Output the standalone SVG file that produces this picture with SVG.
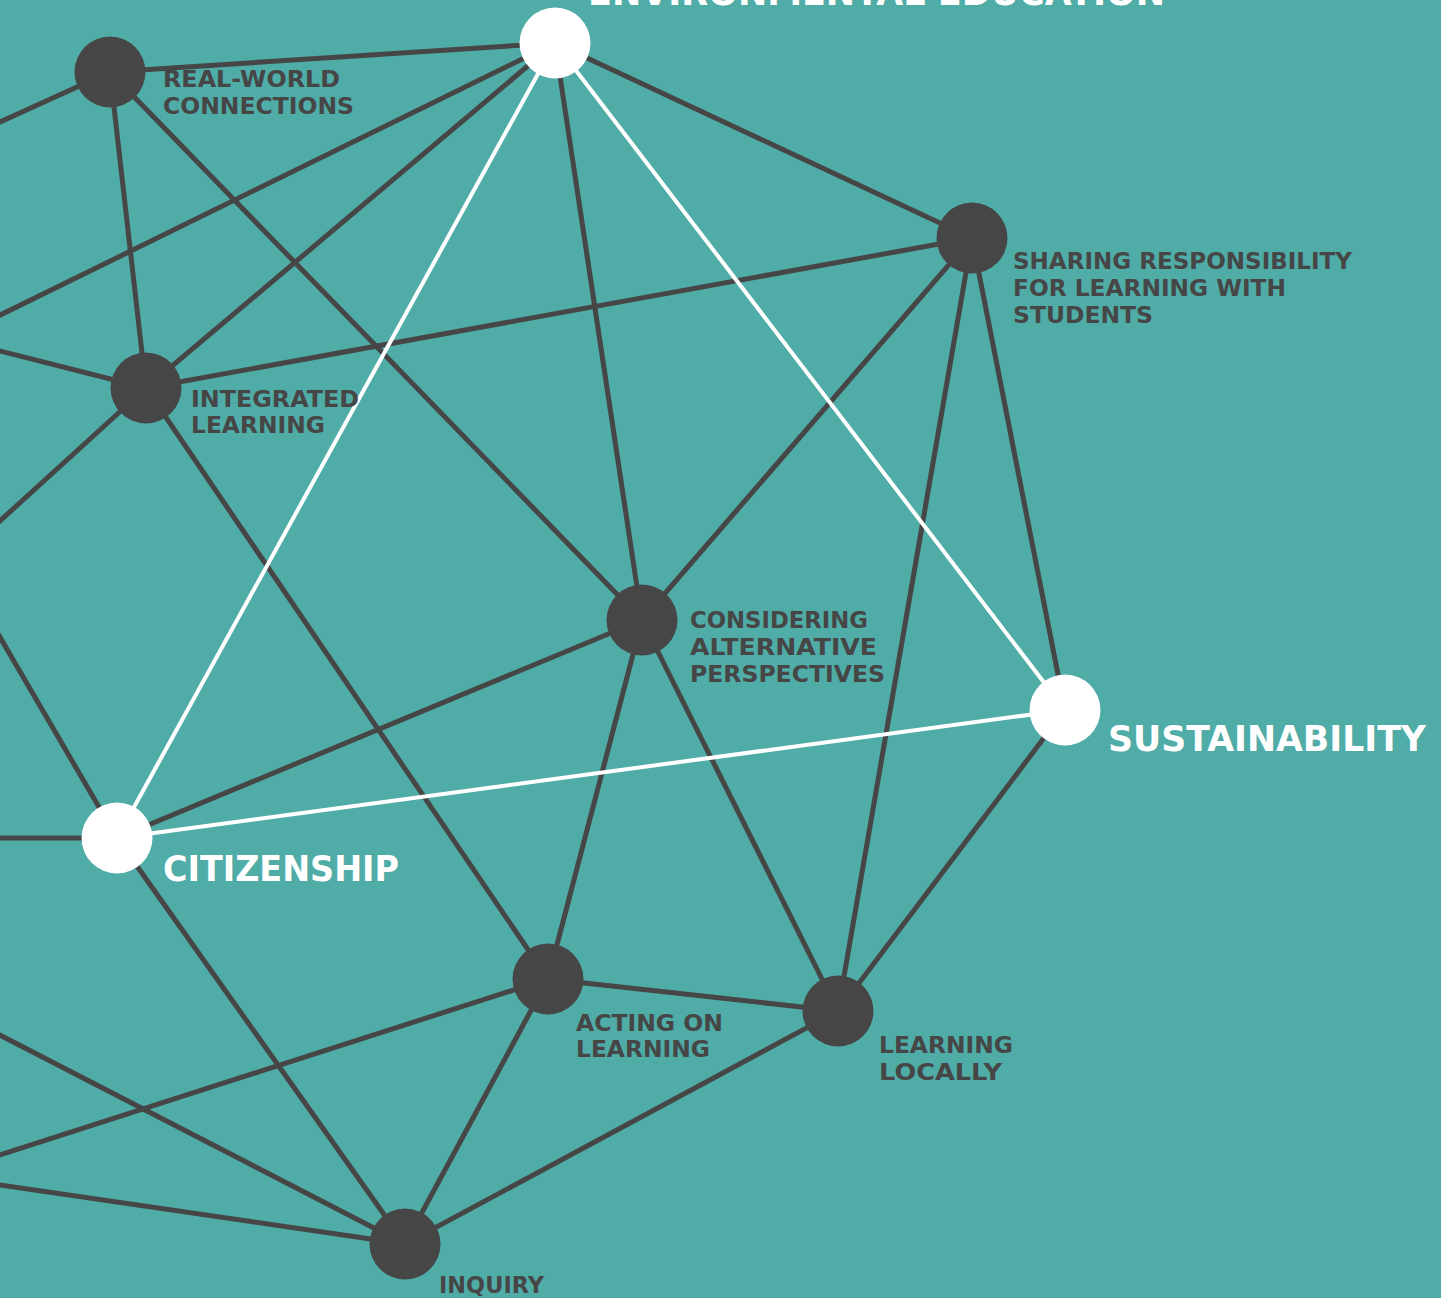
<svg xmlns="http://www.w3.org/2000/svg" width="1441" height="1298" viewBox="0 0 1441 1298">
<style>
.dk{stroke:#464646;stroke-width:5;fill:none}
.wt{stroke:#ffffff;stroke-width:4;fill:none}
.nd{fill:#464646}
.nw{fill:#ffffff}
.ld{font-family:"DejaVu Sans","Liberation Sans",sans-serif;font-weight:bold;font-size:23px;fill:#464646}
.lw{font-family:"DejaVu Sans","Liberation Sans",sans-serif;font-weight:bold;font-size:35.5px;fill:#ffffff}
</style>
<rect x="0" y="0" width="1441" height="1298" fill="#50ACA7"/>
<g id="connectors">
<line class="dk" x1="110" y1="72" x2="555" y2="43"/>
<line class="dk" x1="110" y1="72" x2="-10" y2="126.5"/>
<line class="dk" x1="555" y1="43" x2="-10" y2="320"/>
<line class="dk" x1="146" y1="388" x2="-10" y2="348.5"/>
<line class="dk" x1="146" y1="388" x2="-10" y2="530"/>
<line class="dk" x1="117" y1="838" x2="-10" y2="620"/>
<line class="dk" x1="117" y1="838" x2="-10" y2="838"/>
<line class="dk" x1="405" y1="1244" x2="-10" y2="1030"/>
<line class="dk" x1="548" y1="979" x2="-10" y2="1158"/>
<line class="dk" x1="405" y1="1244" x2="-10" y2="1183.5"/>
<line class="dk" x1="110" y1="72" x2="146" y2="388"/>
<line class="dk" x1="110" y1="72" x2="642" y2="620"/>
<line class="dk" x1="555" y1="43" x2="146" y2="388"/>
<line class="dk" x1="555" y1="43" x2="642" y2="620"/>
<line class="dk" x1="555" y1="43" x2="972" y2="238"/>
<line class="dk" x1="972" y1="238" x2="146" y2="388"/>
<line class="dk" x1="972" y1="238" x2="642" y2="620"/>
<line class="dk" x1="972" y1="238" x2="838" y2="1011"/>
<line class="dk" x1="972" y1="238" x2="1065" y2="710"/>
<line class="dk" x1="146" y1="388" x2="548" y2="979"/>
<line class="dk" x1="642" y1="620" x2="117" y2="838"/>
<line class="dk" x1="642" y1="620" x2="548" y2="979"/>
<line class="dk" x1="642" y1="620" x2="838" y2="1011"/>
<line class="dk" x1="1065" y1="710" x2="838" y2="1011"/>
<line class="dk" x1="117" y1="838" x2="405" y2="1244"/>
<line class="dk" x1="548" y1="979" x2="838" y2="1011"/>
<line class="dk" x1="548" y1="979" x2="405" y2="1244"/>
<line class="dk" x1="838" y1="1011" x2="405" y2="1244"/>
<line class="wt" x1="555" y1="43" x2="117" y2="838"/>
<line class="wt" x1="555" y1="43" x2="1065" y2="710"/>
<line class="wt" x1="117" y1="838" x2="1065" y2="710"/>
</g>
<g id="node-environmental-education">
<circle class="nw" cx="555" cy="43" r="35.5"/>
<text class="lw" x="588" y="5" textLength="577" lengthAdjust="spacingAndGlyphs">ENVIRONMENTAL EDUCATION</text>
</g>
<g id="node-real-world-connections">
<circle class="nd" cx="110" cy="72" r="35.5"/>
<text class="ld" x="163" y="87" textLength="177" lengthAdjust="spacingAndGlyphs">REAL-WORLD</text>
<text class="ld" x="163" y="114" textLength="191" lengthAdjust="spacingAndGlyphs">CONNECTIONS</text>
</g>
<g id="node-integrated-learning">
<circle class="nd" cx="146" cy="388" r="35.5"/>
<text class="ld" x="191" y="407" textLength="168" lengthAdjust="spacingAndGlyphs">INTEGRATED</text>
<text class="ld" x="191" y="433" textLength="134" lengthAdjust="spacingAndGlyphs">LEARNING</text>
</g>
<g id="node-sharing-responsibility">
<circle class="nd" cx="972" cy="238" r="35.5"/>
<text class="ld" x="1013" y="269" textLength="339" lengthAdjust="spacingAndGlyphs">SHARING RESPONSIBILITY</text>
<text class="ld" x="1013" y="296" textLength="273" lengthAdjust="spacingAndGlyphs">FOR LEARNING WITH</text>
<text class="ld" x="1013" y="323" textLength="140" lengthAdjust="spacingAndGlyphs">STUDENTS</text>
</g>
<g id="node-considering-alternative-perspectives">
<circle class="nd" cx="642" cy="620" r="35.5"/>
<text class="ld" x="690" y="628" textLength="178" lengthAdjust="spacingAndGlyphs">CONSIDERING</text>
<text class="ld" x="690" y="655" textLength="187" lengthAdjust="spacingAndGlyphs">ALTERNATIVE</text>
<text class="ld" x="690" y="682" textLength="195" lengthAdjust="spacingAndGlyphs">PERSPECTIVES</text>
</g>
<g id="node-sustainability">
<circle class="nw" cx="1065" cy="710" r="35.5"/>
<text class="lw" x="1108" y="751" textLength="318" lengthAdjust="spacingAndGlyphs">SUSTAINABILITY</text>
</g>
<g id="node-citizenship">
<circle class="nw" cx="117" cy="838" r="35.5"/>
<text class="lw" x="163" y="881" textLength="236" lengthAdjust="spacingAndGlyphs">CITIZENSHIP</text>
</g>
<g id="node-acting-on-learning">
<circle class="nd" cx="548" cy="979" r="35.5"/>
<text class="ld" x="576" y="1031" textLength="147" lengthAdjust="spacingAndGlyphs">ACTING ON</text>
<text class="ld" x="576" y="1057" textLength="134" lengthAdjust="spacingAndGlyphs">LEARNING</text>
</g>
<g id="node-learning-locally">
<circle class="nd" cx="838" cy="1011" r="35.5"/>
<text class="ld" x="879" y="1053" textLength="134" lengthAdjust="spacingAndGlyphs">LEARNING</text>
<text class="ld" x="879" y="1080" textLength="123" lengthAdjust="spacingAndGlyphs">LOCALLY</text>
</g>
<g id="node-inquiry">
<circle class="nd" cx="405" cy="1244" r="35.5"/>
<text class="ld" x="439" y="1293" textLength="105" lengthAdjust="spacingAndGlyphs">INQUIRY</text>
</g>
</svg>
